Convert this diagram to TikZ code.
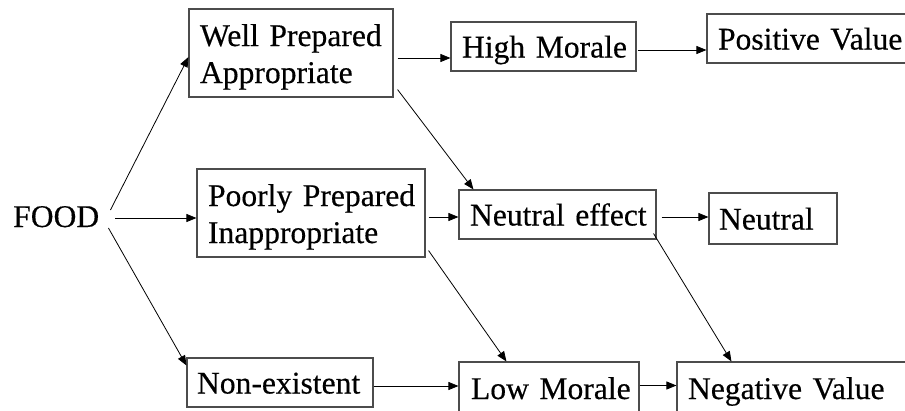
\documentclass[tikz,border=0pt]{standalone}
\usepackage{fontspec}
\setmainfont{Liberation Serif}[FakeBold=0.4]
\newfontfamily\boxfont{Liberation Serif}[FakeBold=0.4]
\usetikzlibrary{arrows.meta}
\begin{document}
\begin{tikzpicture}[x=1pt,y=-1pt,
  font=\boxfont\fontsize{31.6}{37}\selectfont,
  box/.style={draw=black!70,line width=1.1pt,inner ysep=0pt,align=left},
  one/.style={box,text height=29pt,text depth=7pt},
  low/.style={box,text height=25pt,text depth=7pt},
  two/.style={box,text height=30pt,text depth=44pt},
  bw/.style n args={3}{minimum width=#1pt,minimum height=#2pt,
    inner xsep=#3pt,text width={(#1-2*#3)*1pt}},
  arr/.style={line width=0.8pt,-{Triangle[length=10pt,width=8pt]}}]
\useasboundingbox (0,0) rectangle (905,410);
\clip (0,0) rectangle (905,410);

% source label
\node[inner sep=0pt,anchor=base west,text height=22pt,text depth=0pt] (food) at (13,227) {FOOD};

% first column
\node[two,bw={204}{88}{11}] (well) at (291,53) {\mbox{Well Prepared}\\\mbox{Appropriate}};
\node[two,bw={228}{88}{11}] (poor) at (311,213) {\mbox{Poorly Prepared}\\\mbox{Inappropriate}};
\node[one,bw={186}{49}{10}] (non) at (280,382.5) {\mbox{Non-existent}};

% second column
\node[one,bw={185}{49}{11}] (high) at (543.5,46.5) {\mbox{High Morale}};
\node[one,bw={197}{49}{11}] (neff) at (557.5,214.5) {\mbox{Neutral effect}};
\node[low,bw={180}{56}{12}] (low) at (549,390) {\mbox{Low Morale}};

% outcomes
\node[one,bw={215}{49}{11}] (pos) at (814.5,38.5) {\mbox{Positive Value}};
\node[one,bw={128}{51}{10}] (neu) at (773,218.5) {\mbox{Neutral}};
\node[low,bw={240}{56}{11}] (neg) at (797,390) {\mbox{Negative Value}};

% connectors
\draw[arr] ([shift={(11,-6)}]food.east) -- ([shift={(0,4)}]well.west);
\draw[arr] ([shift={(16,2)}]food.east) -- ([shift={(0,5)}]poor.west);
\draw[arr] ([shift={(9,12)}]food.east) -- ([shift={(0,-17)}]non.west);
\draw[arr] ([shift={(4,5)}]well.east) -- ([shift={(0,11.5)}]high.west);
\draw[arr] ([shift={(4,-8)}]well.south east) -- ([shift={(15,0)}]neff.north west);
\draw[arr] ([shift={(1,3.5)}]high.east) -- ([shift={(0,11.5)}]pos.west);
\draw[arr] ([shift={(3,4)}]poor.east) -- ([shift={(0,2.5)}]neff.west);
\draw[arr] ([shift={(3,-7)}]poor.south east) -- ([shift={(48,0)}]low.north west);
\draw[arr] ([shift={(5,2.5)}]neff.east) -- ([shift={(0,-1.5)}]neu.west);
\draw[arr] ([shift={(-3,-6)}]neff.south east) -- ([shift={(55,0)}]neg.north west);
\draw[arr] ([shift={(0,3.5)}]non.east) -- ([shift={(0,-4)}]low.west);
\draw[arr] ([shift={(0,-4.5)}]low.east) -- ([shift={(0,-4.5)}]neg.west);
\end{tikzpicture}
\end{document}
